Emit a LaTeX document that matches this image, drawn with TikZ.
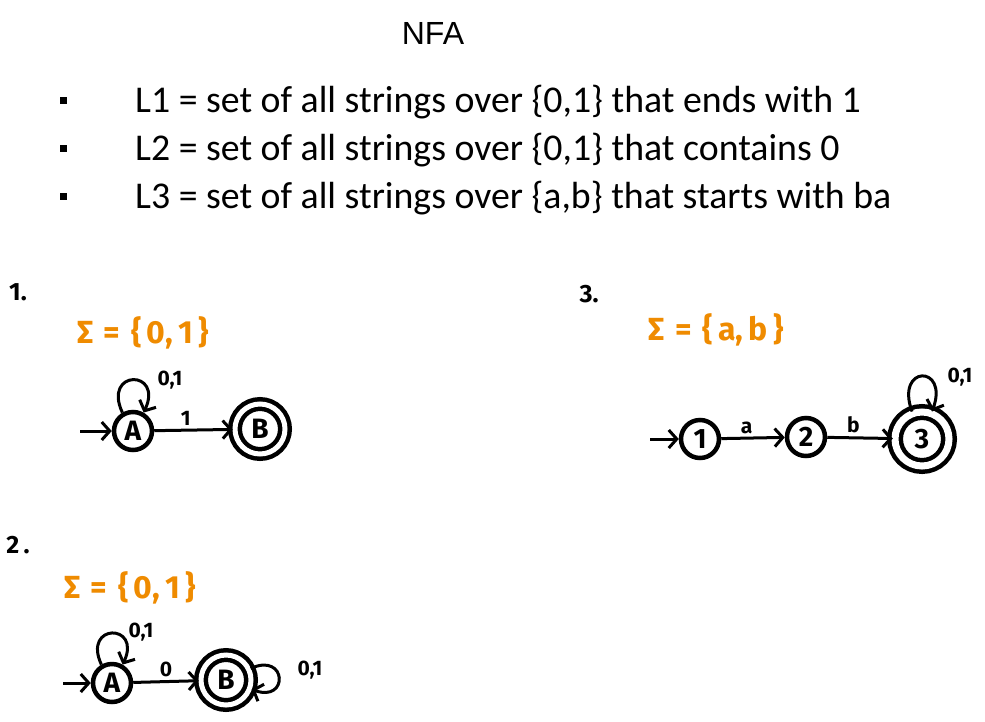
\documentclass[tikz,border=0pt]{standalone}
\usepackage{fontspec}
\setmainfont{Carlito}
\newfontfamily\handfont{Fira Sans}
\newfontfamily\titlefont{Liberation Sans}
\usetikzlibrary{arrows.meta,positioning}
\definecolor{SigmaOrange}{HTML}{EF8B00}

\begin{document}
\begin{tikzpicture}[x=1pt,y=-1pt,
  state/.style={draw,circle,line width=4.5pt,minimum size=38pt,inner sep=0pt,font=\handfont\bfseries\fontsize{28}{28}\selectfont},
  final/.style={state,double,double distance=5pt,minimum size=50pt},
  edge/.style={line width=3pt,-{Straight Barb[length=8pt,width=18pt]}},
  lbl/.style={font=\handfont\bfseries\fontsize{21}{21}\selectfont,inner sep=3pt},
  num/.style={font=\handfont\bfseries\fontsize{25}{25}\selectfont,inner sep=0pt},
  alph/.style={text=SigmaOrange,font=\handfont\bfseries\fontsize{32}{32}\selectfont,inner sep=0pt},
  bullet/.style={fill=black,minimum size=7pt,inner sep=0pt},
  langline/.style={anchor=base west,inner sep=0pt,font=\fontsize{37.8}{45}\selectfont}
]
\fill[white] (0,0) rectangle (985,721);
\useasboundingbox (0,0) rectangle (985,721);

% title and languages
\node[anchor=base,inner sep=0pt,font=\titlefont\fontsize{32}{32}\selectfont] (title) at (433,44) {NFA};
\node[bullet] (bul1) at (63,100) {};
\node[bullet] (bul2) at (63,148) {};
\node[bullet] (bul3) at (63,196) {};
\node[langline] (lang1) at (135,112) {L1 = set of all strings over \{0,1\} that ends with 1};
\node[langline] (lang2) at (135,160) {L2 = set of all strings over \{0,1\} that contains 0};
\node[langline] (lang3) at (135,208) {L3 = set of all strings over \{a,b\} that starts with ba};

% 1. ends with 1
\node[num] (num1) at (18,292) {1.};
\node[alph] (alph1) at (143,333) {Σ\,\,=\,\,\{\,0,\,1\,\}};
\coordinate (in1) at (80,431);
\node[state] (stA1) at (133,431) {A};
\node[final] (stB1) at (260,429) {B};
\draw[edge] (in1) -- (stA1);
\draw[edge] (stA1) -- node[lbl,above,pos=0.4] (lblAB1) {1} (stB1);
\draw[edge] (stA1.120) .. controls +(115:48pt) and +(65:48pt) .. (stA1.60);
\node[lbl] (lblAA1) at (170,380) {0,1};

% 2. contains 0
\node[num] (num2) at (18,545) {2\,.};
\node[alph] (alph2) at (130,588) {Σ\,\,=\,\,\{\,0,\,1\,\}};
\coordinate (in2) at (63,683);
\node[state] (stA2) at (112,683) {A};
\node[final] (stB2) at (226,680) {B};
\draw[edge] (in2) -- (stA2);
\draw[edge] (stA2) -- node[lbl,above] (lblAB2) {0} (stB2);
\draw[edge] (stA2.120) .. controls +(115:46pt) and +(65:46pt) .. (stA2.60);
\draw[edge] (stB2.25) .. controls +(25:40pt) and +(-20:40pt) .. (stB2.-20);
\node[lbl] (lblAA2) at (141,632) {0,1};
\node[lbl] (lblBB2) at (310,670) {0,1};

% 3. starts with ba
\node[num] (num3) at (589,294) {3.};
\node[alph] (alph3) at (716,330) {Σ\,\,=\,\,\{\,a,\,b\,\}};
\coordinate (in3) at (650,439);
\node[state] (st1) at (700,439) {1};
\node[state] (st2) at (806,437) {2};
\node[final,double distance=7pt,minimum size=54pt] (st3) at (922,439) {3};
\draw[edge] (in3) -- (st1);
\draw[edge] (st1) -- node[lbl,above,pos=0.4] (lbl12) {a} (st2);
\draw[edge] (st2) -- node[lbl,above,pos=0.4] (lbl23) {b} (st3);
\draw[edge] (st3.110) .. controls +(110:50pt) and +(70:50pt) .. (st3.70);
\node[lbl] (lbl33) at (960,377) {0,1};
\end{tikzpicture}
\end{document}
